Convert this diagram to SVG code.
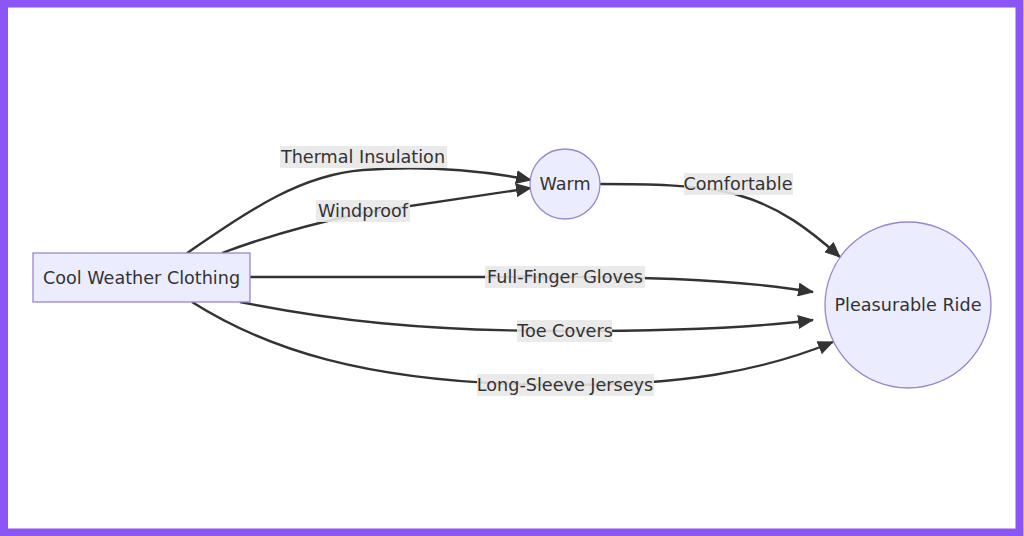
<svg xmlns="http://www.w3.org/2000/svg" width="1024" height="536" viewBox="0 0 1024 536">
<defs>
<style>
.node{fill:#ececff;stroke:#9a86d0;stroke-width:1.3}
.lbl{font-family:"DejaVu Sans",sans-serif;font-size:17.6px;fill:#333;text-anchor:middle;dominant-baseline:central}
.edge{fill:none;stroke:#333;stroke-width:2.4}
.lbg{fill:#e8e8e8;opacity:0.9}
</style>
<marker id="arr" viewBox="0 0 16 14" refX="15" refY="7" markerWidth="16" markerHeight="14" markerUnits="userSpaceOnUse" orient="auto">
<path d="M0,0 L16,7 L0,14 z" fill="#333"/>
</marker>
</defs>
<rect x="0" y="0" width="1024" height="536" fill="#fff"/>
<rect x="4" y="3.5" width="1015.5" height="529" fill="none" stroke="#8c55f5" stroke-width="8"/>
<g id="connectors">
<path class="edge" marker-end="url(#arr)" d="M187,253 C250,210 300,175 363,170 C430,165 490,172 531,180"/>
<path class="edge" marker-end="url(#arr)" d="M222,253 C270,235 320,222 363,213 L531,188"/>
<path class="edge" marker-end="url(#arr)" d="M600,184 C640,184 700,184 738,195 C780,207 810,230 840,257"/>
<path class="edge" marker-end="url(#arr)" d="M250,277 L565,277 C680,277 760,283 813,292"/>
<path class="edge" marker-end="url(#arr)" d="M240,302 C330,320 420,331 565,331 C680,331 760,327 813,320"/>
<path class="edge" marker-end="url(#arr)" d="M192,302 C260,345 360,385 565,385 C680,385 760,372 833,342"/>
</g>
<g id="edge-labels">
<rect class="lbg" x="280" y="146" width="167" height="22"/>
<text class="lbl" x="363" y="157">Thermal Insulation</text>
<rect class="lbg" x="316" y="200" width="94" height="22"/>
<text class="lbl" x="363" y="211">Windproof</text>
<rect class="lbg" x="684" y="173" width="109" height="22"/>
<text class="lbl" x="738" y="184">Comfortable</text>
<rect class="lbg" x="485" y="266" width="160" height="22"/>
<text class="lbl" x="565" y="277">Full-Finger Gloves</text>
<rect class="lbg" x="517" y="320" width="95" height="22"/>
<text class="lbl" x="565" y="331">Toe Covers</text>
<rect class="lbg" x="477" y="374" width="177" height="22"/>
<text class="lbl" x="565" y="385">Long-Sleeve Jerseys</text>
</g>
<g id="node-cool">
<rect class="node" x="33" y="253" width="217" height="49"/>
<text class="lbl" x="141.5" y="277.5">Cool Weather Clothing</text>
</g>
<g id="node-warm">
<circle class="node" cx="565" cy="184" r="35"/>
<text class="lbl" x="565" y="184">Warm</text>
</g>
<g id="node-ride">
<circle class="node" cx="908" cy="305" r="83"/>
<text class="lbl" x="908" y="305">Pleasurable Ride</text>
</g>
</svg>
